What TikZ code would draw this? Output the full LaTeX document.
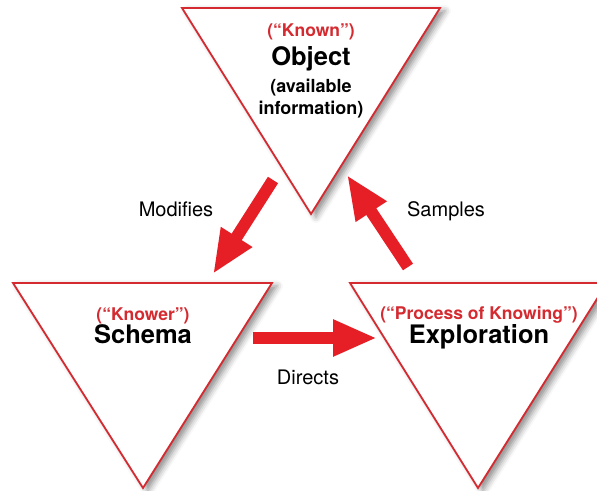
\documentclass[tikz,border=0pt]{standalone}
\usepackage{fontspec}
\setmainfont{TeX Gyre Heros}
\usetikzlibrary{arrows.meta,shadows.blur}

\definecolor{trired}{RGB}{212,42,48}
\definecolor{arrred}{RGB}{230,30,38}

\tikzset{
  tribox/.style={draw=trired, line width=1.8pt, fill=white, line join=miter,
    blur shadow={shadow xshift=5pt, shadow yshift=-3pt, shadow blur radius=6pt, shadow opacity=45}},
  bigarrow/.style={draw=arrred, line width=12pt, -{Triangle[length=44pt,width=34pt]}},
  redlbl/.style={text=trired, anchor=base, font=\bfseries\fontsize{17.5}{20}\selectfont},
  mainlbl/.style={anchor=base, font=\bfseries\fontsize{25.5}{28}\selectfont},
  sublbl/.style={anchor=base, font=\bfseries\fontsize{18}{21}\selectfont},
  edgelbl/.style={anchor=base, font=\fontsize{20}{23}\selectfont}
}

\begin{document}
\begin{tikzpicture}[x=1pt,y=1pt]
\useasboundingbox (0,0) rectangle (597,490);
\clip (0,0) rectangle (597,490);
% Object triangle (top)
\draw[tribox] (182,482) -- (440,482) -- (311,276) -- cycle;
% Schema triangle (left)
\draw[tribox] (13,207) -- (272,207) -- (143,2) -- cycle;
% Exploration triangle (right, cut by the edge)
\draw[tribox] (350,207) -- (607,207) -- (478,2) -- cycle;
% Texts of the top triangle
\node[redlbl] (known) at (311,453) {(“Known”)};
\node[mainlbl] (object) at (311,424) {Object};
\node[sublbl] (avail) at (311,397) {(available};
\node[sublbl] (info) at (311,375) {information)};
% Texts of the left triangle
\node[redlbl] (knower) at (143,169) {(“Knower”)};
\node[mainlbl] (schema) at (143,146) {Schema};
% Texts of the right triangle
\node[redlbl] (process) at (479,170) {(“Process of Knowing”)};
\node[mainlbl] (explor) at (479,146) {Exploration};
% Arrow ends
\coordinate (modA) at (273,310);
\coordinate (modB) at (213,216);
\coordinate (samA) at (408,223);
\coordinate (samB) at (347,315);
\coordinate (dirA) at (253,152);
\coordinate (dirB) at (377,152);
% Arrows
\draw[bigarrow] (modA) -- (modB);
\draw[bigarrow] (samA) -- (samB);
\draw[bigarrow] (dirA) -- (dirB);
% Arrow labels
\node[edgelbl] (modifies) at (176,273) {Modifies};
\node[edgelbl] (samples) at (446,273) {Samples};
\node[edgelbl] (directs) at (308,105) {Directs};
\end{tikzpicture}
\end{document}
